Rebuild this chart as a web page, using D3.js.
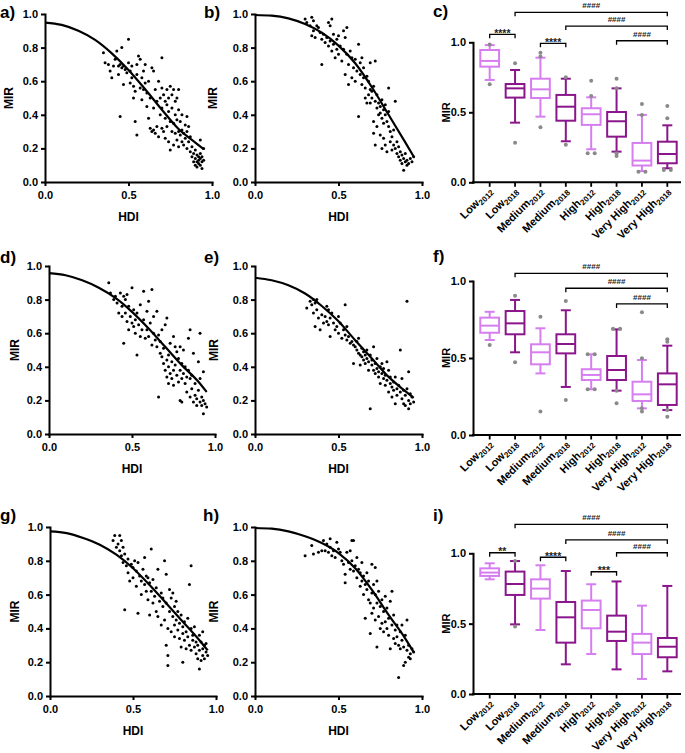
<!DOCTYPE html>
<html><head><meta charset="utf-8">
<script src="https://cdn.jsdelivr.net/npm/d3@7"></script>
<style>
body{margin:0;background:#fff;}
svg{display:block;font-family:"Liberation Sans",Arial,Helvetica,sans-serif;}
</style></head><body>
<svg id="chart" width="685" height="753"></svg>
<script>
// ---------- tick values ----------
const hdiTicks=[0,0.5,1.0];
const mirTicks=[0,0.2,0.4,0.6,0.8,1.0];
const boxTicks=[0,0.5,1.0];

// ---------- box plot categories ----------
const groupNames=["Low","Low","Medium","Medium","High","High","Very High","Very High"];
const groupYears=["2012","2018","2012","2018","2012","2018","2012","2018"];

// ---------- scatter data [HDI, MIR] ----------
const scatterA=[[0.35,0.77],[0.36,0.71],[0.38,0.70],[0.39,0.66],[0.40,0.62],[0.41,0.69],[0.42,0.73],[0.43,0.78],[0.44,0.69],[0.44,0.64],[0.45,0.70],[0.45,0.39],[0.46,0.80],[0.46,0.68],[0.47,0.69],[0.47,0.58],
[0.48,0.67],[0.49,0.65],[0.50,0.85],[0.50,0.71],[0.51,0.66],[0.51,0.59],[0.52,0.69],[0.52,0.62],[0.53,0.57],[0.53,0.50],[0.54,0.54],[0.54,0.36],[0.55,0.28],[0.55,0.64],[0.55,0.70],
[0.56,0.75],[0.57,0.73],[0.57,0.56],[0.58,0.62],[0.58,0.49],[0.59,0.55],[0.59,0.66],[0.60,0.70],[0.60,0.59],[0.61,0.45],[0.61,0.53],[0.62,0.60],[0.62,0.38],[0.63,0.50],[0.63,0.32],[0.64,0.68],[0.64,0.30],[0.65,0.66],[0.65,0.44],[0.65,0.31],
[0.66,0.55],[0.66,0.29],[0.67,0.48],[0.67,0.33],[0.68,0.60],[0.68,0.27],[0.69,0.50],[0.69,0.40],[0.70,0.74],[0.70,0.56],[0.70,0.44],[0.70,0.32],[0.71,0.52],[0.71,0.30],[0.72,0.48],[0.72,0.38],[0.72,0.26],[0.73,0.55],[0.73,0.46],[0.73,0.33],[0.74,0.50],[0.74,0.42],[0.74,0.24],[0.75,0.57],[0.75,0.36],[0.75,0.19],
[0.76,0.52],[0.76,0.44],[0.76,0.30],[0.77,0.55],[0.77,0.35],[0.77,0.22],[0.78,0.48],[0.78,0.40],[0.78,0.29],[0.79,0.50],[0.79,0.37],[0.79,0.25],[0.80,0.55],[0.80,0.43],[0.80,0.30],[0.80,0.21],[0.81,0.36],[0.81,0.28],[0.82,0.40],[0.82,0.31],[0.82,0.24],[0.83,0.29],[0.83,0.22],[0.84,0.34],[0.84,0.26],[0.85,0.39],[0.85,0.30],[0.85,0.20],
[0.86,0.33],[0.86,0.24],[0.87,0.27],[0.87,0.18],[0.88,0.21],[0.88,0.15],[0.89,0.17],[0.89,0.12],[0.90,0.14],[0.90,0.10],[0.90,0.19],[0.91,0.16],[0.91,0.12],[0.91,0.09],[0.92,0.15],[0.92,0.13],[0.92,0.11],[0.93,0.25],[0.93,0.17],[0.93,0.14],[0.93,0.10],[0.94,0.15],[0.94,0.12],[0.94,0.08],[0.95,0.20],[0.95,0.13]];

const scatterB=[[0.30,0.97],[0.31,0.95],[0.33,0.93],[0.34,0.98],[0.34,0.87],[0.35,0.96],[0.35,0.90],[0.36,0.86],[0.37,0.93],[0.38,0.92],[0.39,0.89],[0.40,0.70],[0.40,0.85],[0.41,0.88],[0.42,0.83],[0.43,0.86],[0.44,0.95],[0.44,0.81],[0.45,0.93],[0.45,0.84],[0.46,0.97],[0.46,0.78],[0.47,0.88],[0.47,0.82],[0.48,0.74],[0.49,0.85],[0.49,0.79],[0.50,0.87],[0.50,0.76],[0.51,0.81],[0.52,0.72],[0.53,0.90],[0.53,0.79],[0.54,0.86],[0.54,0.64],[0.55,0.92],[0.55,0.76],[0.56,0.58],[0.56,0.70],[0.57,0.78],[0.58,0.74],[0.58,0.62],[0.59,0.68],[0.60,0.60],[0.60,0.73],[0.61,0.66],[0.62,0.82],[0.62,0.39],[0.63,0.64],[0.63,0.71],[0.64,0.74],[0.64,0.58],[0.65,0.68],[0.65,0.62],[0.66,0.50],[0.66,0.56],[0.67,0.63],[0.67,0.47],[0.68,0.60],[0.68,0.52],[0.69,0.71],[0.69,0.55],[0.69,0.47],[0.70,0.54],[0.70,0.50],[0.71,0.29],[0.71,0.36],[0.71,0.57],[0.72,0.72],[0.72,0.48],[0.72,0.22],[0.73,0.44],[0.73,0.52],[0.73,0.33],[0.74,0.40],[0.74,0.47],[0.75,0.45],[0.75,0.28],[0.75,0.41],[0.76,0.49],[0.76,0.38],[0.76,0.20],[0.77,0.43],[0.77,0.35],[0.77,0.26],[0.78,0.46],[0.78,0.40],[0.78,0.22],[0.79,0.36],[0.79,0.18],[0.80,0.56],[0.80,0.33],[0.80,0.42],[0.81,0.30],[0.81,0.24],[0.82,0.27],[0.82,0.19],[0.83,0.31],[0.83,0.22],[0.84,0.48],[0.84,0.20],[0.85,0.17],[0.85,0.24],[0.86,0.15],[0.86,0.21],[0.87,0.18],[0.87,0.13],[0.88,0.16],[0.88,0.11],[0.89,0.14],[0.89,0.07],[0.90,0.12],[0.90,0.17],[0.91,0.10],[0.91,0.13],[0.92,0.11],[0.93,0.14],[0.94,0.12],[0.95,0.15]];

const scatterD=[[0.36,0.90],[0.37,0.84],[0.39,0.80],[0.40,0.82],[0.41,0.78],[0.42,0.72],[0.43,0.84],[0.44,0.76],[0.44,0.70],[0.45,0.82],[0.45,0.54],[0.46,0.80],[0.46,0.72],[0.47,0.83],[0.47,0.67],[0.48,0.76],[0.48,0.62],[0.49,0.70],[0.50,0.87],[0.50,0.66],[0.51,0.74],[0.51,0.64],[0.52,0.68],[0.52,0.60],[0.53,0.72],[0.53,0.47],[0.54,0.65],[0.55,0.58],[0.55,0.77],[0.56,0.62],[0.57,0.85],[0.57,0.68],[0.58,0.57],[0.59,0.73],[0.59,0.62],[0.60,0.79],[0.60,0.58],[0.61,0.66],[0.62,0.53],[0.62,0.86],[0.63,0.60],[0.63,0.70],[0.64,0.56],[0.65,0.52],[0.65,0.73],[0.66,0.59],[0.66,0.22],[0.67,0.55],[0.67,0.48],[0.68,0.46],[0.68,0.62],[0.69,0.51],[0.69,0.42],[0.70,0.65],[0.70,0.38],[0.71,0.69],[0.71,0.44],[0.71,0.34],[0.72,0.47],[0.72,0.40],[0.72,0.30],[0.73,0.54],[0.73,0.36],[0.74,0.43],[0.74,0.33],[0.75,0.58],[0.75,0.38],[0.75,0.29],[0.76,0.52],[0.76,0.41],[0.77,0.35],[0.77,0.49],[0.78,0.45],[0.78,0.31],[0.79,0.52],[0.79,0.38],[0.79,0.20],[0.80,0.42],[0.80,0.33],[0.80,0.19],[0.81,0.50],[0.81,0.36],[0.82,0.40],[0.82,0.30],[0.83,0.34],[0.83,0.25],[0.84,0.38],[0.84,0.57],[0.85,0.33],[0.85,0.62],[0.85,0.22],[0.86,0.35],[0.86,0.27],[0.87,0.48],[0.87,0.19],[0.88,0.30],[0.88,0.23],[0.89,0.21],[0.89,0.17],[0.90,0.43],[0.90,0.26],[0.91,0.19],[0.91,0.60],[0.91,0.33],[0.92,0.17],[0.92,0.22],[0.93,0.20],[0.93,0.37],[0.93,0.12],[0.94,0.18],[0.95,0.16]];

const scatterE=[[0.31,0.75],[0.33,0.79],[0.34,0.77],[0.35,0.80],[0.35,0.72],[0.36,0.78],[0.36,0.64],[0.37,0.80],[0.37,0.74],[0.38,0.69],[0.39,0.62],[0.40,0.71],[0.41,0.66],[0.42,0.70],[0.43,0.76],[0.43,0.67],[0.44,0.74],[0.44,0.65],[0.45,0.58],[0.45,0.69],[0.46,0.72],[0.47,0.66],[0.48,0.62],[0.49,0.64],[0.50,0.60],[0.50,0.70],[0.51,0.66],[0.52,0.57],[0.53,0.62],[0.54,0.77],[0.54,0.59],[0.55,0.56],[0.55,0.64],[0.56,0.58],[0.57,0.54],[0.58,0.55],[0.59,0.42],[0.59,0.53],[0.60,0.52],[0.61,0.50],[0.61,0.55],[0.62,0.57],[0.62,0.48],[0.63,0.47],[0.63,0.41],[0.64,0.51],[0.64,0.46],[0.65,0.44],[0.65,0.49],[0.66,0.47],[0.66,0.42],[0.67,0.45],[0.67,0.50],[0.68,0.43],[0.68,0.38],[0.69,0.47],[0.69,0.15],[0.70,0.41],[0.70,0.44],[0.71,0.52],[0.71,0.38],[0.72,0.42],[0.72,0.36],[0.73,0.39],[0.73,0.45],[0.74,0.37],[0.74,0.34],[0.75,0.40],[0.75,0.30],[0.76,0.36],[0.76,0.42],[0.77,0.33],[0.77,0.39],[0.78,0.35],[0.78,0.29],[0.79,0.32],[0.79,0.43],[0.80,0.38],[0.80,0.25],[0.81,0.30],[0.81,0.34],[0.82,0.28],[0.82,0.22],[0.83,0.31],[0.83,0.26],[0.84,0.18],[0.84,0.34],[0.85,0.27],[0.85,0.23],[0.86,0.29],[0.87,0.25],[0.87,0.50],[0.88,0.21],[0.88,0.33],[0.89,0.26],[0.89,0.18],[0.90,0.23],[0.90,0.17],[0.91,0.27],[0.91,0.79],[0.92,0.20],[0.92,0.37],[0.92,0.15],[0.93,0.24],[0.93,0.18],[0.94,0.22],[0.95,0.19]];

const scatterG=[[0.38,0.92],[0.39,0.95],[0.40,0.88],[0.41,0.90],[0.42,0.95],[0.42,0.86],[0.43,0.92],[0.43,0.83],[0.44,0.88],[0.44,0.79],[0.45,0.84],[0.45,0.51],[0.46,0.77],[0.47,0.81],[0.47,0.73],[0.48,0.68],[0.49,0.78],[0.50,0.76],[0.50,0.70],[0.51,0.80],[0.52,0.74],[0.52,0.65],[0.53,0.49],[0.53,0.79],[0.54,0.71],[0.55,0.68],[0.55,0.60],[0.56,0.75],[0.57,0.66],[0.57,0.82],[0.58,0.62],[0.58,0.71],[0.59,0.57],[0.59,0.70],[0.60,0.67],[0.60,0.48],[0.61,0.87],[0.61,0.62],[0.62,0.55],[0.62,0.69],[0.63,0.59],[0.64,0.50],[0.64,0.64],[0.65,0.75],[0.65,0.47],[0.66,0.56],[0.67,0.61],[0.67,0.42],[0.68,0.53],[0.68,0.58],[0.69,0.80],[0.69,0.45],[0.70,0.55],[0.70,0.72],[0.70,0.30],[0.71,0.18],[0.71,0.24],[0.71,0.40],[0.72,0.50],[0.72,0.63],[0.73,0.38],[0.73,0.58],[0.74,0.47],[0.74,0.61],[0.75,0.42],[0.75,0.53],[0.75,0.35],[0.76,0.56],[0.76,0.45],[0.77,0.39],[0.77,0.50],[0.78,0.34],[0.78,0.43],[0.79,0.48],[0.79,0.29],[0.80,0.37],[0.80,0.20],[0.80,0.41],[0.81,0.44],[0.81,0.33],[0.82,0.38],[0.82,0.28],[0.83,0.46],[0.83,0.35],[0.84,0.66],[0.84,0.30],[0.85,0.77],[0.85,0.40],[0.85,0.27],[0.86,0.33],[0.86,0.36],[0.87,0.29],[0.87,0.41],[0.88,0.25],[0.88,0.32],[0.89,0.30],[0.89,0.22],[0.90,0.36],[0.90,0.16],[0.90,0.27],[0.91,0.32],[0.91,0.21],[0.92,0.28],[0.92,0.24],[0.92,0.38],[0.93,0.30],[0.93,0.22],[0.94,0.26],[0.94,0.31],[0.95,0.24]];

const scatterH=[[0.30,0.83],[0.34,0.89],[0.35,0.84],[0.38,0.85],[0.40,0.86],[0.41,0.92],[0.42,0.86],[0.43,0.90],[0.44,0.85],[0.45,0.93],[0.45,0.88],[0.46,0.83],[0.47,0.86],[0.48,0.82],[0.49,0.91],[0.50,0.87],[0.51,0.85],[0.52,0.80],[0.53,0.78],[0.54,0.67],[0.54,0.72],[0.55,0.85],[0.56,0.79],[0.57,0.86],[0.57,0.75],[0.58,0.92],[0.58,0.80],[0.59,0.92],[0.59,0.74],[0.60,0.77],[0.61,0.70],[0.61,0.82],[0.62,0.75],[0.63,0.65],[0.63,0.73],[0.64,0.68],[0.64,0.79],[0.65,0.60],[0.65,0.71],[0.66,0.46],[0.66,0.66],[0.67,0.63],[0.67,0.73],[0.68,0.57],[0.68,0.68],[0.69,0.55],[0.69,0.37],[0.70,0.78],[0.70,0.61],[0.70,0.49],[0.71,0.66],[0.71,0.52],[0.72,0.76],[0.72,0.45],[0.72,0.60],[0.73,0.29],[0.73,0.55],[0.73,0.68],[0.74,0.47],[0.74,0.62],[0.75,0.40],[0.75,0.53],[0.76,0.57],[0.76,0.43],[0.77,0.50],[0.77,0.38],[0.78,0.59],[0.78,0.44],[0.79,0.40],[0.79,0.52],[0.80,0.46],[0.80,0.36],[0.81,0.28],[0.81,0.56],[0.82,0.42],[0.82,0.62],[0.83,0.34],[0.83,0.48],[0.84,0.39],[0.84,0.31],[0.85,0.42],[0.85,0.35],[0.86,0.30],[0.86,0.11],[0.87,0.38],[0.87,0.28],[0.88,0.42],[0.88,0.33],[0.89,0.18],[0.89,0.29],[0.90,0.36],[0.90,0.20],[0.91,0.45],[0.91,0.27],[0.92,0.30],[0.92,0.23],[0.93,0.25],[0.93,0.22],[0.94,0.28],[0.95,0.26]];

// ---------- fitted curves, read at HDI steps ----------
const curveA=[[0,0.949],[0.1,0.935],[0.2,0.90],[0.3,0.846],[0.4,0.766],[0.5,0.667],[0.6,0.552],[0.7,0.43],[0.8,0.315],[0.9,0.235],[0.95,0.196]];
const curveB=[[0,0.994],[0.1,0.99],[0.2,0.974],[0.3,0.94],[0.4,0.889],[0.5,0.812],[0.6,0.707],[0.7,0.564],[0.8,0.40],[0.9,0.236],[0.95,0.152]];
const curveD=[[0,0.958],[0.1,0.945],[0.2,0.915],[0.3,0.871],[0.4,0.81],[0.5,0.727],[0.6,0.628],[0.7,0.519],[0.8,0.41],[0.9,0.311],[0.95,0.25]];
const curveE=[[0,0.93],[0.1,0.915],[0.2,0.885],[0.3,0.836],[0.4,0.762],[0.5,0.671],[0.6,0.558],[0.7,0.45],[0.8,0.34],[0.9,0.255],[0.95,0.215]];
const curveG=[[0,0.974],[0.1,0.964],[0.2,0.935],[0.3,0.895],[0.4,0.836],[0.5,0.756],[0.6,0.657],[0.7,0.549],[0.8,0.44],[0.9,0.33],[0.95,0.27]];
const curveH=[[0,0.994],[0.1,0.99],[0.2,0.974],[0.3,0.945],[0.4,0.905],[0.5,0.846],[0.6,0.756],[0.7,0.628],[0.8,0.48],[0.9,0.34],[0.95,0.26]];

// ---------- box stats [whisker low, q1, median, q3, whisker high] ----------
const boxC=[[0.731,0.826,0.867,0.945,0.98],[0.426,0.605,0.671,0.702,0.802],[0.469,0.602,0.664,0.74,0.89],[0.293,0.44,0.54,0.624,0.74],[0.236,0.41,0.486,0.529,0.607],[0.219,0.326,0.436,0.502,0.671],[0.08,0.12,0.155,0.281,0.481],[0.10,0.136,0.202,0.29,0.407]];
const outC=[[0.985,0.70],[0.85,0.283],[0.926,0.898,0.393],[0.75,0.269],[0.726,0.617,0.207,0.207],[0.74,0.671,0.207,0.188],[0.56,0.48,0.076,0.076],[0.545,0.457,0.088,0.088]];
const boxF=[[0.617,0.664,0.71,0.762,0.80],[0.537,0.654,0.725,0.805,0.877],[0.40,0.459,0.537,0.589,0.693],[0.312,0.53,0.591,0.654,0.81],[0.297,0.357,0.39,0.427,0.524],[0.288,0.357,0.422,0.513,0.686],[0.173,0.221,0.264,0.346,0.487],[0.162,0.195,0.329,0.40,0.58]];
const outF=[[0.584],[0.905,0.472],[0.768,0.152],[0.87,0.227],[0.524,0.524,0.297,0.297],[0.69,0.69,0.288,0.206],[0.797,0.498,0.152,0.173],[0.621,0.606,0.162,0.119]];
const boxI=[[0.815,0.839,0.863,0.893,0.929],[0.495,0.704,0.782,0.87,0.945],[0.455,0.678,0.749,0.815,0.915],[0.211,0.365,0.545,0.654,0.874],[0.284,0.467,0.597,0.664,0.78],[0.175,0.377,0.443,0.557,0.80],[0.107,0.284,0.365,0.427,0.628],[0.161,0.261,0.336,0.398,0.768]];
const outI=[[],[0.945,0.479],[],[],[],[],[],[]];

// ---------- significance brackets [from, to, label, MIR level] ----------
const bracketsC=[[1,7,"####",1.214],[3,7,"####",1.116],[5,7,"####",1.011],[0,1,"****",1.057],[2,3,"****",0.993]];
const bracketsF=[[1,7,"####",1.05],[3,7,"####",0.953],[5,7,"####",0.851]];
const bracketsI=[[1,7,"####",1.206],[3,7,"####",1.095],[5,7,"####",1.004],[0,1,"**",1.004],[2,3,"****",0.972],[4,5,"***",0.869]];

// ================= drawing =================
const svg=d3.select("#chart");
const LIGHT="#d67ef0", DARK="#8b168b", GREY="#8a8a8a";
const fmt=d3.format(".1f");

function styleAxis(g){
  g.select(".domain").attr("stroke","#000").attr("stroke-width",2).attr("stroke-linecap","square");
  g.selectAll(".tick line").attr("stroke","#000").attr("stroke-width",2);
  g.selectAll(".tick text").attr("fill","#000").attr("font-size",11).attr("font-weight","bold").attr("font-family",'"Liberation Sans",Arial,sans-serif');
}

function panelLabel(txt,x,y){
  svg.append("text").attr("x",x).attr("y",y).attr("font-size",17).attr("font-weight","bold").attr("fill","#000").text(txt);
}

function scatterPanel(L,pts,curve){
  const x=d3.scaleLinear().domain([0,1]).range([L.x0,L.x1]);
  const y=d3.scaleLinear().domain([0,1]).range([L.yb,L.yt]);
  const g=svg.append("g");
  g.append("g").attr("transform",`translate(0,${L.yb})`)
    .call(d3.axisBottom(x).tickValues(hdiTicks).tickFormat(fmt).tickSize(4).tickSizeOuter(0).tickPadding(5)).call(styleAxis);
  g.append("g").attr("transform",`translate(${L.x0},0)`)
    .call(d3.axisLeft(y).tickValues(mirTicks).tickFormat(fmt).tickSize(4).tickSizeOuter(0).tickPadding(3)).call(styleAxis);
  g.append("g").selectAll("circle").data(pts).join("circle")
    .attr("cx",d=>x(d[0])).attr("cy",d=>y(d[1])).attr("r",1.5).attr("fill","#000");
  g.append("path").datum(curve).attr("fill","none").attr("stroke","#000").attr("stroke-width",2.2)
    .attr("d",d3.line().x(d=>x(d[0])).y(d=>y(d[1])).curve(d3.curveMonotoneX));
  g.append("text").attr("x",(L.x0+L.x1)/2).attr("y",L.yb+39).attr("text-anchor","middle")
    .attr("font-size",12).attr("font-weight","bold").attr("fill","#000").text("HDI");
  g.append("text").attr("transform",`translate(${L.mx},${(L.yb+L.yt)/2}) rotate(-90)`).attr("text-anchor","middle")
    .attr("font-size",12).attr("font-weight","bold").attr("fill","#000").text("MIR");
  panelLabel(L.label,L.lx,L.ly);
}

function boxPanel(L,stats,outs,brackets){
  const keys=groupNames.map((n,i)=>n+groupYears[i]);
  const xb=d3.scaleBand().domain(keys).range([477,680]);
  const cx=i=>xb(keys[i])+xb.bandwidth()/2;
  const bw=xb.bandwidth()*0.74;
  const y=d3.scaleLinear().domain([0,1]).range([L.yb,L.yt]);
  const g=svg.append("g");
  // x axis
  const xa=g.append("g").attr("transform",`translate(0,${L.yb})`)
    .call(d3.axisBottom(xb).tickSize(4.5).tickSizeOuter(0).tickFormat(""));
  xa.select(".domain").attr("d",`M${L.x0},0H680`);
  styleAxis(xa);
  xa.selectAll(".tick line").attr("stroke-width",1.8);
  // rotated labels
  keys.forEach((k,i)=>{
    const t=g.append("text").attr("transform",`translate(${cx(i)+3},${L.yb+9}) rotate(-45)`)
      .attr("text-anchor","end").attr("font-size",11).attr("font-weight","bold").attr("fill","#000");
    t.append("tspan").text(groupNames[i]);
    t.append("tspan").attr("font-size",8).attr("dy",2.5).text(groupYears[i]);
  });
  // y axis
  g.append("g").attr("transform",`translate(${L.x0},0)`)
    .call(d3.axisLeft(y).tickValues(boxTicks).tickFormat(fmt).tickSize(4).tickSizeOuter(0).tickPadding(3)).call(styleAxis);
  g.append("text").attr("transform",`translate(450,${(L.yb+L.yt)/2}) rotate(-90)`).attr("text-anchor","middle")
    .attr("font-size",11).attr("font-weight","bold").attr("fill","#000").text("MIR");
  // boxes
  stats.forEach((s,i)=>{
    const c=cx(i), col=i%2===0?LIGHT:DARK;
    const bx=g.append("g").attr("stroke",col).attr("stroke-width",2).attr("fill","none");
    bx.append("line").attr("x1",c).attr("x2",c).attr("y1",y(s[0])).attr("y2",y(s[1]));
    bx.append("line").attr("x1",c).attr("x2",c).attr("y1",y(s[3])).attr("y2",y(s[4]));
    bx.append("line").attr("x1",c-5).attr("x2",c+5).attr("y1",y(s[0])).attr("y2",y(s[0]));
    bx.append("line").attr("x1",c-5).attr("x2",c+5).attr("y1",y(s[4])).attr("y2",y(s[4]));
    bx.append("rect").attr("x",c-bw/2).attr("width",bw).attr("y",y(s[3])).attr("height",y(s[1])-y(s[3])).attr("fill","#fff");
    bx.append("line").attr("x1",c-bw/2).attr("x2",c+bw/2).attr("y1",y(s[2])).attr("y2",y(s[2]));
    // outliers; equal values placed side by side
    const counts={};
    outs[i].forEach(v=>{counts[v]=(counts[v]||0)+1;});
    const seen={};
    outs[i].forEach(v=>{
      const n=counts[v], j=(seen[v]=(seen[v]||0)+1)-1;
      const off=n>1?(j-(n-1)/2)*7:0;
      g.append("circle").attr("cx",c+off).attr("cy",y(v)).attr("r",2).attr("fill",GREY);
    });
  });
  // brackets
  brackets.forEach(b=>{
    const x1=cx(b[0]), x2=cx(b[1]), yy=y(b[3]);
    g.append("path").attr("d",`M${x1},${yy+4}V${yy}H${x2}V${yy+4}`).attr("fill","none").attr("stroke","#000").attr("stroke-width",1.3);
    const star=b[2].startsWith("*");
    g.append("text").attr("x",(x1+x2)/2).attr("y",star?yy+2.5:yy-4).attr("text-anchor","middle")
      .attr("font-size",star?10.5:8).attr("font-weight","bold").attr("fill","#222").text(b[2]);
  });
  panelLabel(L.label,L.lx,L.ly);
}

scatterPanel({x0:45,x1:212,yt:14,yb:182,mx:13,label:"a)",lx:0,ly:17.5},scatterA,curveA);
scatterPanel({x0:255,x1:422,yt:14,yb:182,mx:217,label:"b)",lx:204,ly:17.5},scatterB,curveB);
scatterPanel({x0:49,x1:215,yt:266,yb:434,mx:19,label:"d)",lx:0,ly:262.5},scatterD,curveD);
scatterPanel({x0:255,x1:422,yt:266,yb:434,mx:218,label:"e)",lx:204,ly:262.5},scatterE,curveE);
scatterPanel({x0:50,x1:216,yt:527,yb:696,mx:19,label:"g)",lx:0,ly:521},scatterG,curveG);
scatterPanel({x0:255,x1:422,yt:527,yb:696,mx:218,label:"h)",lx:203,ly:521},scatterH,curveH);

boxPanel({x0:473,yt:42.3,yb:182.3,label:"c)",lx:433,ly:17},boxC,outC,bracketsC);
boxPanel({x0:473,yt:281,yb:435,label:"f)",lx:433,ly:262},boxF,outF,bracketsF);
boxPanel({x0:473,yt:553.3,yb:694,label:"i)",lx:433,ly:521},boxI,outI,bracketsI);
</script>
</body></html>
